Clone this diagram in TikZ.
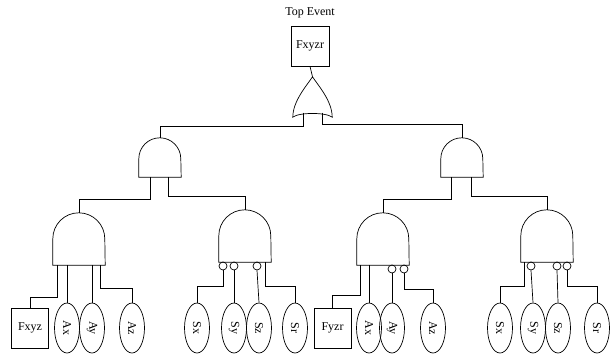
\documentclass[tikz,border=0pt]{standalone}
\usepackage{fontspec}
\setmainfont{Liberation Serif}
\usepackage{graphicx}
\usetikzlibrary{calc,shapes.geometric}
\tikzset{
  ln/.style={draw=black,line width=0.7pt},
  boxev/.style={rectangle,ln,minimum width=37,minimum height=40,inner sep=0pt,font=\fontsize{12}{14}\selectfont},
  basic/.style={ellipse,ln,minimum width=25,minimum height=50,inner sep=0pt,font=\fontsize{12}{14}\selectfont},
  gatearea/.style={rectangle,draw=none,inner sep=0pt},
  bub/.style={circle,ln,minimum size=8,inner sep=0pt},
}
\newcommand\andgate[2]{%
  \draw[ln] (#1.south west) -- ($(#1.north west)+(0,#2)$)
    arc[start angle=180,end angle=0,radius=#2pt] -- (#1.south east) -- cycle;}
\newcommand\rot[1]{\rotatebox{-90}{#1}}
\begin{document}
\begin{tikzpicture}[x=1pt,y=-1pt]
\useasboundingbox (0,0) rectangle (615,354);
% top
\node[font=\fontsize{12}{14}\selectfont] (title) at (310,13) {Top Event};
\node[boxev,minimum width=38] (fxyzr) at (310,46) {Fxyzr};
\node[gatearea,minimum width=39,minimum height=40] (or) at (312.5,97) {};
\draw[ln] (or.south west) .. controls +(0,-16) and +(-6,9) .. (or.north)
  .. controls +(6,9) and +(0,-16) .. (or.south east)
  .. controls +(-6,-5) and +(6,-5) .. cycle;
\draw[ln] (fxyzr.south) -- (or.north);
\coordinate (orL) at (303,112.5);
\coordinate (orR) at (322,112.5);
% level 2
\node[gatearea,minimum width=42,minimum height=39] (ga2) at (160,157.5) {};
\node[gatearea,minimum width=42,minimum height=39] (gb2) at (462,157.5) {};
\andgate{ga2}{21}
\andgate{gb2}{21}
\draw[ln] (orL) -- (orL |- 0,126) -| (ga2.north);
\draw[ln] (orR) -- (orR |- 0,124) -| (gb2.north);
% level 3 gates
\node[gatearea,minimum width=52,minimum height=52] (gA) at (79,239) {};
\node[gatearea,minimum width=52,minimum height=52] (gB) at (245,236) {};
\node[gatearea,minimum width=52,minimum height=52] (gC) at (383,239) {};
\node[gatearea,minimum width=52,minimum height=52] (gD) at (547,236) {};
\andgate{gA}{26}
\andgate{gB}{26}
\andgate{gC}{26}
\andgate{gD}{26}
\coordinate (ga2L) at ($(ga2.south west)+(12,0)$);
\coordinate (ga2R) at ($(ga2.south west)+(30,0)$);
\coordinate (gb2L) at ($(gb2.south west)+(11,0)$);
\coordinate (gb2R) at ($(gb2.south west)+(31,0)$);
\draw[ln] (ga2L) -- (ga2L |- 0,199) -| (gA.north);
\draw[ln] (ga2R) -- (ga2R |- 0,196) -| (gB.north);
\draw[ln] (gb2L) -- (gb2L |- 0,199) -| (gC.north);
\draw[ln] (gb2R) -- (gb2R |- 0,196) -| (gD.north);
% events under gate A
\node[boxev] (fxyz) at (30,328) {Fxyz};
\node[basic] (aAx) at (67,328) {\rot{Ax}};
\node[basic] (aAy) at (92,328) {\rot{Ay}};
\node[basic] (aAz) at (132,328) {\rot{Az}};
\coordinate (gAo1) at ($(gA.south west)+(5,0)$);
\coordinate (gAo4) at ($(gA.south west)+(48,0)$);
\draw[ln] (gAo1) -- (gAo1 |- 0,297) -| (fxyz.north);
\draw[ln] (aAx.north) -- (aAx.north |- gA.south);
\draw[ln] (aAy.north) -- (aAy.north |- gA.south);
\draw[ln] (gAo4) -- (gAo4 |- 0,288) -| (aAz.north);
% events under gate B
\node[bub] (bB1) at (223,266) {};
\node[bub] (bB2) at (234,266) {};
\node[bub] (bB3) at (257,266) {};
\node[basic] (sBx) at (197,328) {\rot{Sx}};
\node[basic] (sBy) at (234,328) {\rot{Sy}};
\node[basic] (sBz) at (259,328) {\rot{Sz}};
\node[basic] (sBr) at (295,328) {\rot{Sr}};
\coordinate (gBo4) at ($(gB.south west)+(47,0)$);
\draw[ln] (bB1.south) -- (bB1.south |- 0,286) -| (sBx.north);
\draw[ln] (bB2.south) -- (sBy.north);
\draw[ln] (bB3.south) -- (sBz.north);
\draw[ln] (gBo4) -- (gBo4 |- 0,286) -| (sBr.north);
% events under gate C
\node[boxev] (fyzr) at (332.5,328) {Fyzr};
\node[bub] (bC1) at (392,269) {};
\node[bub] (bC2) at (404,269) {};
\node[basic] (aCx) at (369,328) {\rot{Ax}};
\node[basic] (aCy) at (392,328) {\rot{Ay}};
\node[basic] (aCz) at (433,328) {\rot{Az}};
\coordinate (gCo1) at ($(gC.south west)+(4,0)$);
\draw[ln] (gCo1) -- (gCo1 |- 0,295) -| (fyzr.north);
\draw[ln] (aCx.north) -- (aCx.north |- gC.south);
\draw[ln] (bC1.south) -- (aCy.north);
\draw[ln] (bC2.south) -- (bC2.south |- 0,289) -| (aCz.north);
% events under gate D
\node[bub] (bD1) at (531,266) {};
\node[bub] (bD2) at (557,266) {};
\node[bub] (bD3) at (567,266) {};
\node[basic] (sDx) at (500,328) {\rot{Sx}};
\node[basic] (sDy) at (533,328) {\rot{Sy}};
\node[basic] (sDz) at (558,328) {\rot{Sz}};
\node[basic] (sDr) at (597,328) {\rot{Sr}};
\coordinate (gDo1) at ($(gD.south west)+(4,0)$);
\draw[ln] (gDo1) -- (gDo1 |- 0,286) -| (sDx.north);
\draw[ln] (bD1.south) -- (sDy.north);
\draw[ln] (bD2.south) -- (sDz.north);
\draw[ln] (bD3.south) -- (bD3.south |- 0,286) -| (sDr.north);
\end{tikzpicture}
\end{document}
